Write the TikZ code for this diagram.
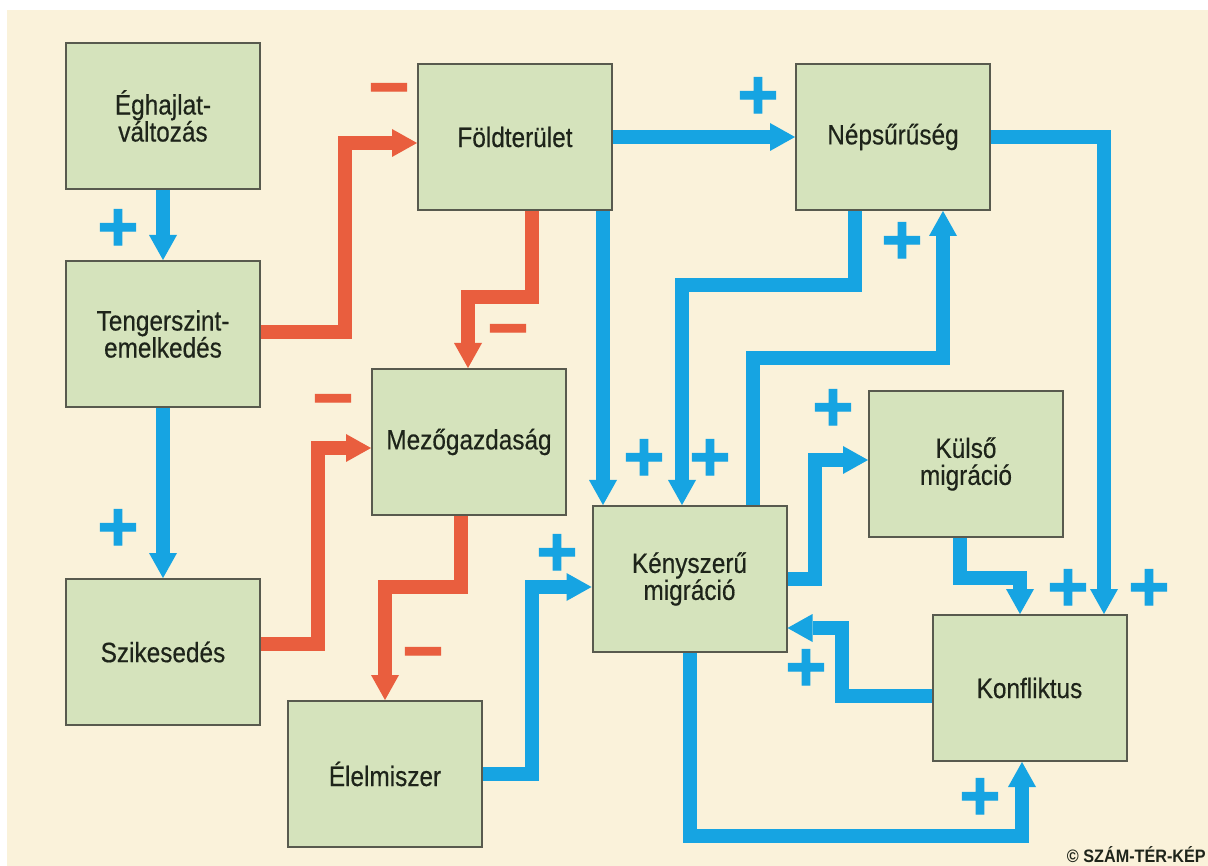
\documentclass[tikz,border=0pt]{standalone}
\usepackage{fontspec}
\setmainfont{Liberation Sans}[FakeStretch=0.87,FakeBold=0.4]
\newfontfamily\signfont{Liberation Sans}[FakeBold=1.5]
\newfontfamily\copyfont{Liberation Sans}[FakeStretch=0.9]
\usetikzlibrary{arrows.meta,calc}
\definecolor{cream}{RGB}{250,242,218}
\definecolor{boxg}{RGB}{213,227,188}
\definecolor{boxd}{RGB}{88,90,78}
\definecolor{txt}{RGB}{30,36,26}
\definecolor{blu}{RGB}{22,164,226}
\definecolor{rdd}{RGB}{233,94,62}
\tikzset{
  box/.style={draw=boxd, line width=2pt, fill=boxg, minimum width=194pt,
    minimum height=146pt, inner sep=0pt, align=center, text=txt,
    font=\fontsize{28}{27}\selectfont},
  bl/.style={line width=14pt, draw=blu,
    -{Triangle[width=28pt,length=25pt,line width=0pt]}},
  rd/.style={line width=14pt, draw=rdd,
    -{Triangle[width=28pt,length=25pt,line width=0pt]}},
  plus/.style={inner sep=0pt, text=blu, font=\signfont\bfseries\fontsize{70}{70}\selectfont},
  minus/.style={inner sep=0pt, text=rdd, font=\signfont\bfseries\fontsize{70}{70}\selectfont}
}
\begin{document}
\begin{tikzpicture}[x=1pt,y=-1pt]
\useasboundingbox (0,0) rectangle (1208,866);
\fill[white] (0,0) rectangle (1208,866);
\fill[cream] (7,10) rectangle (1208,866);

% boxes
\node[box] (egh)   at (163,116)   {Éghajlat-\\változás};
\node[box] (teng)  at (163,334)   {Tengerszint-\\emelkedés};
\node[box] (szik)  at (163,652)   {Szikesedés};
\node[box] (foeld) at (515,137)   {Földterület};
\node[box] (nep)   at (893,137)   {Népsűrűség};
\node[box] (mezo)  at (469,442)   {Mezőgazdaság};
\node[box] (elel)  at (385,774)   {Élelmiszer};
\node[box] (keny)  at (689.5,579) {Kényszerű\\migráció};
\node[box] (kuls)  at (966,464)   {Külső\\migráció};
\node[box] (konf)  at (1029.5,688) {Konfliktus};

% connectors
\draw[bl] (egh.south) -- (teng.north);
\draw[bl] (teng.south) -- (szik.north);
\draw[rd] (teng.east |- 0,332) -| (345,143) -- (345,143 -| foeld.west);
\draw[rd] (532,0 |- foeld.south) -- (532,297) -| (468,0 |- mezo.north);
\draw[bl] (603,0 |- foeld.south) -- (603,0 |- keny.north);
\draw[bl] (foeld.east) -- (nep.west);
\draw[bl] (855,0 |- nep.south) -- (855,285) -| (682,0 |- keny.north);
\draw[bl] (753,0 |- keny.north) -- (753,358) -| (943,0 |- nep.south);
\draw[bl] (nep.east) -| (1104,0 |- konf.north);
\draw[bl] (keny.east) -| (815,460) -- (815,460 -| kuls.west);
\draw[bl] (960,0 |- kuls.south) -- (960,578) -| (1020,0 |- konf.north);
\draw[bl] (konf.west |- 0,696) -- (842,696) |- (842,628 -| keny.east);
\draw[bl] (690,0 |- keny.south) -- (690,836) -| (1022,0 |- konf.south);
\draw[bl] (elel.east) -| (532,587) -- (532,587 -| keny.west);
\draw[rd] (szik.east |- 0,644) -| (318,448) -- (318,448 -| mezo.west);
\draw[rd] (461,0 |- mezo.south) -- (461,587) -| (385,0 |- elel.north);

% signs
\node[plus]  (s1)  at (118,230) {+};
\node[plus]  (s2)  at (118,530) {+};
\node[minus] (s3)  at (389,97)  {−};
\node[minus] (s4)  at (508,338) {−};
\node[plus]  (s5)  at (758,98)  {+};
\node[plus]  (s6)  at (902,243) {+};
\node[plus]  (s7)  at (644,460) {+};
\node[plus]  (s8)  at (710,460) {+};
\node[plus]  (s9)  at (833,410) {+};
\node[plus]  (s10) at (1068,590) {+};
\node[plus]  (s11) at (1149,590) {+};
\node[minus] (s12) at (333,408) {−};
\node[plus]  (s13) at (557,555) {+};
\node[minus] (s14) at (423,661) {−};
\node[plus]  (s15) at (806,670) {+};
\node[plus]  (s16) at (980,799) {+};

\node[anchor=east, inner sep=0pt, text=txt, font=\copyfont\bfseries\fontsize{18}{18}\selectfont] (copy) at (1206,855) {© SZÁM-TÉR-KÉP};
\end{tikzpicture}
\end{document}
